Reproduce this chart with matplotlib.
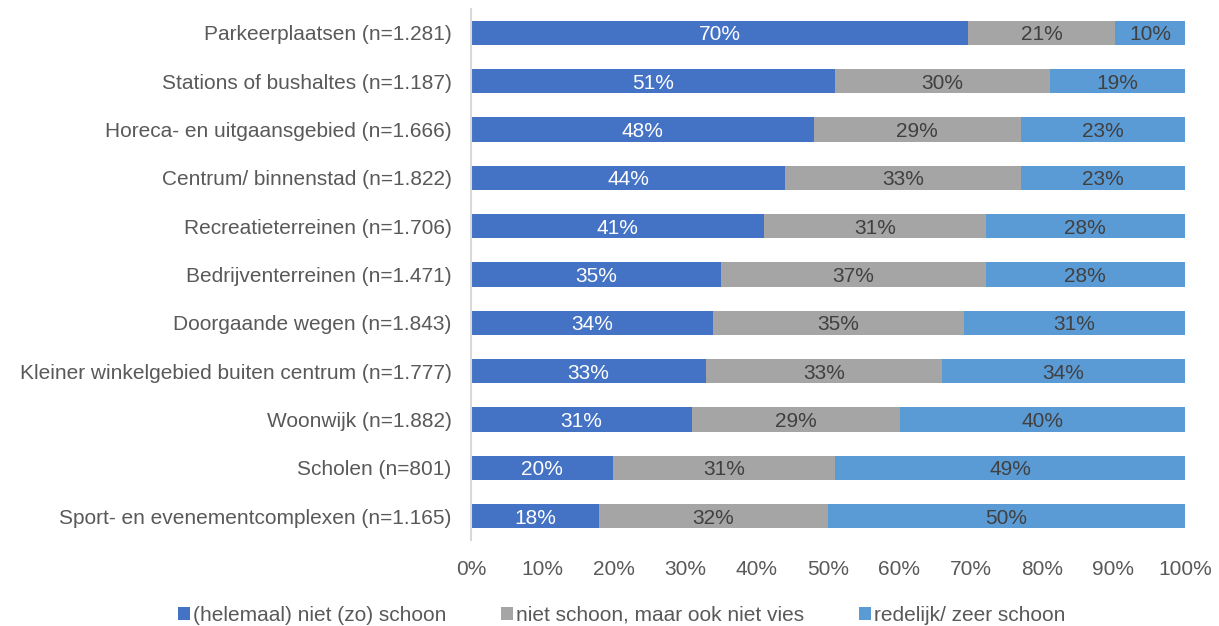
import matplotlib.pyplot as plt
import numpy as np

plt.rcParams['font.family'] = ['Liberation Sans', 'DejaVu Sans']

categories = [
    'Parkeerplaatsen (n=1.281)',
    'Stations of bushaltes (n=1.187)',
    'Horeca- en uitgaansgebied (n=1.666)',
    'Centrum/ binnenstad (n=1.822)',
    'Recreatieterreinen (n=1.706)',
    'Bedrijventerreinen (n=1.471)',
    'Doorgaande wegen (n=1.843)',
    'Kleiner winkelgebied buiten centrum (n=1.777)',
    'Woonwijk (n=1.882)',
    'Scholen (n=801)',
    'Sport- en evenementcomplexen (n=1.165)',
]
niet_schoon = [69.6, 51.0, 48.0, 44.0, 41.0, 35.0, 33.9, 32.9, 31.0, 19.9, 17.9]
neutraal = [20.6, 30.1, 29.0, 33.0, 31.1, 37.1, 35.1, 33.1, 29.1, 31.1, 32.1]
schoon = [9.8, 18.9, 23.0, 23.0, 27.9, 27.9, 31.0, 34.0, 39.9, 49.0, 50.0]
series_names = ['(helemaal) niet (zo) schoon',
                'niet schoon, maar ook niet vies',
                'redelijk/ zeer schoon']
colors = ['#4472C4', '#A5A5A5', '#5B9BD5']
text_colors = ['white', '#404040', '#404040']

fig = plt.figure(figsize=(12.19, 6.26), dpi=100)
ax = fig.add_axes([0.3864, 0.137, 0.972 - 0.3864, 0.849])

y = np.arange(len(categories))
left = np.zeros(len(categories))
for vals, name, col, tcol in zip([niet_schoon, neutraal, schoon], series_names, colors, text_colors):
    vals = np.array(vals)
    bars = ax.barh(y, vals, left=left, height=0.5, color=col, label=name)
    for b, v in zip(bars, vals):
        ax.text(b.get_x() + b.get_width() / 2, b.get_y() + b.get_height() / 2,
                f'{round(v):.0f}%', ha='center', va='center_baseline', color=tcol, fontsize=15)
    left += vals

ax.set_xlim(0, 100)
ax.set_ylim(len(categories) - 0.5, -0.5)
ax.set_yticks(y)
ax.set_yticklabels(categories, fontsize=15, color='#595959')
ax.set_xticks(np.arange(0, 101, 10))
ax.set_xticklabels([f'{t}%' for t in range(0, 101, 10)], fontsize=15, color='#595959')
ax.tick_params(length=0)
ax.tick_params(axis='y', pad=14)
ax.tick_params(axis='x', pad=14)
for s in ['top', 'right', 'bottom']:
    ax.spines[s].set_visible(False)
ax.spines['left'].set_color('#D9D9D9')
ax.spines['left'].set_linewidth(1.5)

fig.legend(loc='lower center', bbox_to_anchor=(0.51, -0.028), ncol=3, frameon=False,
           fontsize=15, handlelength=0.6, handleheight=0.6, handletextpad=0.15,
           columnspacing=2.6, labelcolor='#595959')

fig.savefig('out.png', dpi=100)
